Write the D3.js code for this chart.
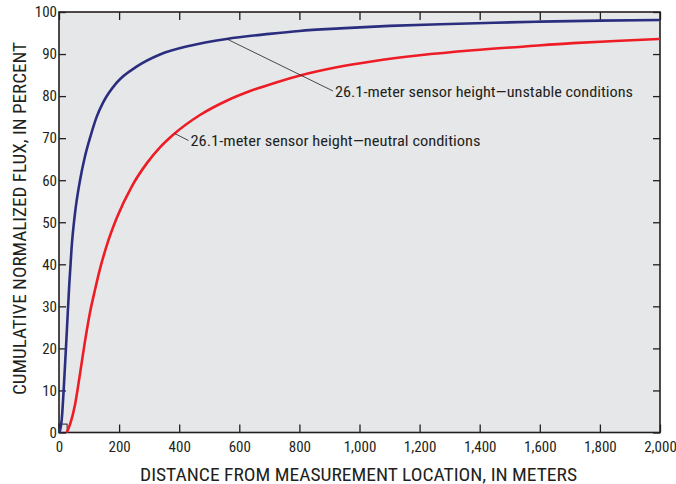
<!DOCTYPE html>
<html>
<head>
<meta charset="utf-8">
<script src="https://cdn.jsdelivr.net/npm/d3@7"></script>
<style>
  html, body { margin: 0; padding: 0; background: #ffffff; }
  svg { display: block; }
  text { font-family: "Liberation Sans Narrow", "Arial Narrow", "Roboto Condensed", "Liberation Sans", sans-serif; fill: #231f20; }
</style>
</head>
<body>
<svg id="chart" width="676" height="484"></svg>
<script>
// ---- data ----
const xTicks = [0, 200, 400, 600, 800, 1000, 1200, 1400, 1600, 1800, 2000];
const yTicks = [0, 10, 20, 30, 40, 50, 60, 70, 80, 90, 100];

const unstableDistance = [2, 9, 17, 26, 34, 42, 53, 70, 86, 105, 125, 147, 192, 258, 336, 436, 558, 700, 800, 935, 1100, 1268, 1450, 1601, 1800, 2000];
const unstablePercent  = [0, 3, 12, 24, 35, 44, 52, 60, 65.5, 70.5, 75, 78.5, 83.2, 87, 89.9, 92, 93.6, 94.8, 95.5, 96.1, 96.7, 97.1, 97.45, 97.7, 97.95, 98.1];

const neutralDistance = [26, 37, 53, 70, 86, 103, 120, 136, 159, 192, 242, 292, 336, 380, 469, 558, 636, 720, 802, 920, 1045, 1200, 1378, 1550, 1710, 1850, 2000];
const neutralPercent  = [0, 2, 6.5, 14, 21.5, 28.5, 34, 38.8, 44.5, 51, 58.5, 64, 67.8, 70.8, 75.5, 78.9, 81.2, 83.2, 84.9, 86.8, 88.3, 89.7, 90.9, 91.8, 92.6, 93.1, 93.6];

const labelUnstable = "26.1-meter sensor height\u2014unstable conditions";
const labelNeutral  = "26.1-meter sensor height\u2014neutral conditions";
const xTitle = "DISTANCE FROM MEASUREMENT LOCATION, IN METERS";
const yTitle = "CUMULATIVE NORMALIZED FLUX, IN PERCENT";

// ---- layout ----
const svg = d3.select("#chart");
const mLeft = 59, mRight = 660, mTop = 12, mBottom = 432.5;

const x = d3.scaleLinear().domain([0, 2000]).range([mLeft, mRight]);
const y = d3.scaleLinear().domain([0, 100]).range([mBottom, mTop]);

// plot background
svg.append("rect")
  .attr("x", mLeft).attr("y", mTop)
  .attr("width", mRight - mLeft).attr("height", mBottom - mTop)
  .attr("fill", "#e6e7e9");

// axes
const axisColor = "#231f20";
function styleAxis(g) {
  g.select(".domain").remove();
  g.selectAll(".tick line").attr("stroke", axisColor).attr("stroke-width", 1.3);
  g.selectAll(".tick text").attr("fill", axisColor).style("font-size", "15px");
}

svg.append("g")
  .attr("transform", `translate(0,${mBottom})`)
  .call(d3.axisBottom(x).tickValues(xTicks).tickFormat(d3.format(",")).tickSize(-8).tickPadding(5))
  .call(styleAxis)
  .call(g => g.selectAll(".tick text").attr("dy", "0.95em"));

svg.append("g")
  .attr("transform", `translate(0,${mTop})`)
  .call(d3.axisTop(x).tickValues(xTicks).tickFormat("").tickSize(-8))
  .call(styleAxis);

svg.append("g")
  .attr("transform", `translate(${mLeft},0)`)
  .call(d3.axisLeft(y).tickValues(yTicks).tickSize(-7).tickPadding(2))
  .call(styleAxis);

svg.append("g")
  .attr("transform", `translate(${mRight},0)`)
  .call(d3.axisRight(y).tickValues(yTicks).tickFormat("").tickSize(-7))
  .call(styleAxis);

// frame
svg.append("rect")
  .attr("x", mLeft).attr("y", mTop)
  .attr("width", mRight - mLeft).attr("height", mBottom - mTop)
  .attr("fill", "none").attr("stroke", axisColor).attr("stroke-width", 1.6);

// small box at origin
svg.append("rect")
  .attr("x", x(0)).attr("y", y(2))
  .attr("width", x(27) - x(0)).attr("height", y(0) - y(2))
  .attr("fill", "none").attr("stroke", axisColor).attr("stroke-width", 1);

// lines
const line = d3.line().x(d => x(d[0])).y(d => y(d[1])).curve(d3.curveMonotoneX);
const unstable = d3.zip(unstableDistance, unstablePercent);
const neutral = d3.zip(neutralDistance, neutralPercent);

svg.append("path").datum(neutral)
  .attr("d", line).attr("fill", "none")
  .attr("stroke", "#ee1c25").attr("stroke-width", 2.6).attr("stroke-linejoin", "round");

svg.append("path").datum(unstable)
  .attr("d", line).attr("fill", "none")
  .attr("stroke", "#2b2e7e").attr("stroke-width", 2.6).attr("stroke-linejoin", "round");

// annotations with leader lines
svg.append("line")
  .attr("x1", x(558)).attr("y1", y(93.6))
  .attr("x2", 333).attr("y2", 91)
  .attr("stroke", "#231f20").attr("stroke-width", 0.8);
svg.append("text")
  .attr("x", 335).attr("y", 97)
  .attr("textLength", 298).attr("lengthAdjust", "spacingAndGlyphs")
  .style("font-size", "15px")
  .text(labelUnstable);

svg.append("line")
  .attr("x1", x(385)).attr("y1", y(71.1))
  .attr("x2", 188.5).attr("y2", 140.5)
  .attr("stroke", "#231f20").attr("stroke-width", 0.8);
svg.append("text")
  .attr("x", 190.5).attr("y", 146)
  .attr("textLength", 290).attr("lengthAdjust", "spacingAndGlyphs")
  .style("font-size", "15px")
  .text(labelNeutral);

// axis titles
svg.append("text")
  .attr("x", 358.5).attr("y", 480.5)
  .attr("text-anchor", "middle")
  .attr("textLength", 437).attr("lengthAdjust", "spacingAndGlyphs")
  .style("font-size", "17.5px")
  .text(xTitle);

svg.append("text")
  .attr("transform", "translate(25.5,218.5) rotate(-90)")
  .attr("text-anchor", "middle")
  .attr("textLength", 353).attr("lengthAdjust", "spacingAndGlyphs")
  .style("font-size", "17.5px")
  .text(yTitle);
</script>
</body>
</html>
